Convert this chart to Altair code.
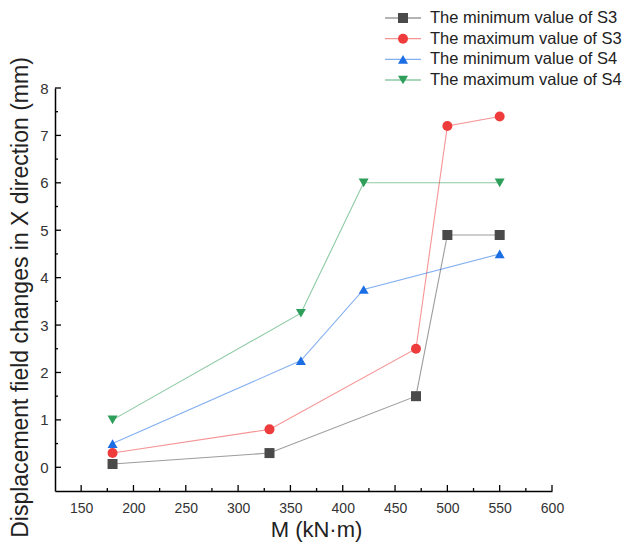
import altair as alt
import pandas as pd

series = [
    "The minimum value of S3",
    "The maximum value of S3",
    "The minimum value of S4",
    "The maximum value of S4",
]
shapes = ["square", "circle", "triangle-up", "triangle-down"]
colors = ["#4a4a4a", "#ee3c3c", "#1c6ee4", "#2e9f5a"]

min_s3_x = [180, 330, 470, 500, 550]
min_s3_y = [0.07, 0.3, 1.5, 4.9, 4.9]
max_s3_x = [180, 330, 470, 500, 550]
max_s3_y = [0.3, 0.8, 2.5, 7.2, 7.4]
min_s4_x = [180, 360, 420, 550]
min_s4_y = [0.5, 2.25, 3.75, 4.5]
max_s4_x = [180, 360, 420, 550]
max_s4_y = [1.0, 3.25, 6.0, 6.0]

x_major = [150, 200, 250, 300, 350, 400, 450, 500, 550, 600]
x_minor = [175, 225, 275, 325, 375, 425, 475, 525, 575]
y_major = [0, 1, 2, 3, 4, 5, 6, 7, 8]
y_minor = [0.5, 1.5, 2.5, 3.5, 4.5, 5.5, 6.5, 7.5]

rows = []
for name, xs, ys in [
    (series[0], min_s3_x, min_s3_y),
    (series[1], max_s3_x, max_s3_y),
    (series[2], min_s4_x, min_s4_y),
    (series[3], max_s4_x, max_s4_y),
]:
    for i, (a, b) in enumerate(zip(xs, ys)):
        rows.append({"series": name, "M": a, "D": b, "i": i})
df = pd.DataFrame(rows)

W, H = 497, 403
FONT = "Liberation Sans"

xscale = alt.Scale(domain=[125, 600], nice=False, zero=False)
yscale = alt.Scale(domain=[-0.5, 8], nice=False, zero=False)
color = alt.Color("series:N", scale=alt.Scale(domain=series, range=colors), legend=None)
shape = alt.Shape("series:N", scale=alt.Scale(domain=series, range=shapes), legend=None)

base = alt.Chart(df)
lines = base.mark_line(strokeWidth=1.1, opacity=0.55).encode(
    x=alt.X("M:Q", scale=xscale, title="M (kN·m)",
            axis=alt.Axis(values=x_major, ticks=False, grid=False, domainColor="#000",
                          domainWidth=1.5, labelFontSize=14, labelColor="#333",
                          labelPadding=10, titleFontSize=22, titleFont=FONT,
                          titleFontWeight="normal", titleColor="#222",
                          titleX=261, titleY=50, titleBaseline="bottom",
                          labelFont=FONT, labelFlush=False)),
    y=alt.Y("D:Q", scale=yscale, title="Displacement field changes in X direction  (mm)",
            axis=alt.Axis(values=y_major, ticks=False, grid=False, domainColor="#000",
                          domainWidth=1.5, labelFontSize=15, labelColor="#333",
                          labelPadding=7, titleFontSize=23, titleFont=FONT,
                          titleFontWeight="normal", titleColor="#222",
                          titleX=-23, titleY=209, titleBaseline="bottom",
                          labelFont=FONT, labelFlush=False)),
    color=color,
    detail="series:N",
    order="i:Q",
)
points = base.mark_point(filled=True, size=100, opacity=1).encode(
    x=alt.X("M:Q", scale=xscale),
    y=alt.Y("D:Q", scale=yscale),
    color=color,
    shape=shape,
)

# inward tick marks
xt_major = alt.Chart(pd.DataFrame({"v": x_major})).mark_rule(color="#000", strokeWidth=1.3).encode(
    x=alt.X("v:Q", scale=xscale), y=alt.value(H), y2=alt.value(H - 6))
xt_minor = alt.Chart(pd.DataFrame({"v": x_minor})).mark_rule(color="#000", strokeWidth=1.3).encode(
    x=alt.X("v:Q", scale=xscale), y=alt.value(H), y2=alt.value(H - 3))
yt_major = alt.Chart(pd.DataFrame({"v": y_major})).mark_rule(color="#000", strokeWidth=1.3).encode(
    y=alt.Y("v:Q", scale=yscale), x=alt.value(0), x2=alt.value(6))
yt_minor = alt.Chart(pd.DataFrame({"v": y_minor})).mark_rule(color="#000", strokeWidth=1.3).encode(
    y=alt.Y("v:Q", scale=yscale), x=alt.value(0), x2=alt.value(3))

main = alt.layer(lines, points, xt_major, xt_minor, yt_major, yt_minor)

# manual legend
leg_df = pd.DataFrame({"series": series})
ly = alt.Y("series:N", sort=series, axis=None,
           scale=alt.Scale(type="point", domain=series, range=[-70, -8], padding=0))
lcolor = alt.Color("series:N", scale=alt.Scale(domain=series, range=colors), legend=None)
lshape = alt.Shape("series:N", scale=alt.Scale(domain=series, range=shapes), legend=None)
leg_line = alt.Chart(leg_df).mark_rule(strokeWidth=1.3, opacity=0.55).encode(
    y=ly, x=alt.value(330), x2=alt.value(366), color=lcolor)
leg_pt = alt.Chart(leg_df).mark_point(filled=True, size=100, opacity=1).encode(
    y=ly, x=alt.value(348), color=lcolor, shape=lshape)
leg_txt = alt.Chart(leg_df).mark_text(align="left", baseline="middle", fontSize=16.5,
                                      font=FONT, color="#222").encode(
    y=ly, x=alt.value(375), text="series:N")
legend = alt.layer(leg_line, leg_pt, leg_txt)

chart = alt.layer(main, legend).resolve_scale(
    y="independent", color="independent", shape="independent"
).properties(
    width=W, height=H,
    autosize=alt.AutoSizeParams(type="none"),
    padding={"left": 47, "top": 80, "right": 80, "bottom": 52},
).configure_view(stroke=None)

chart.save("out.html", embed_options={"renderer": "svg", "actions": False})
